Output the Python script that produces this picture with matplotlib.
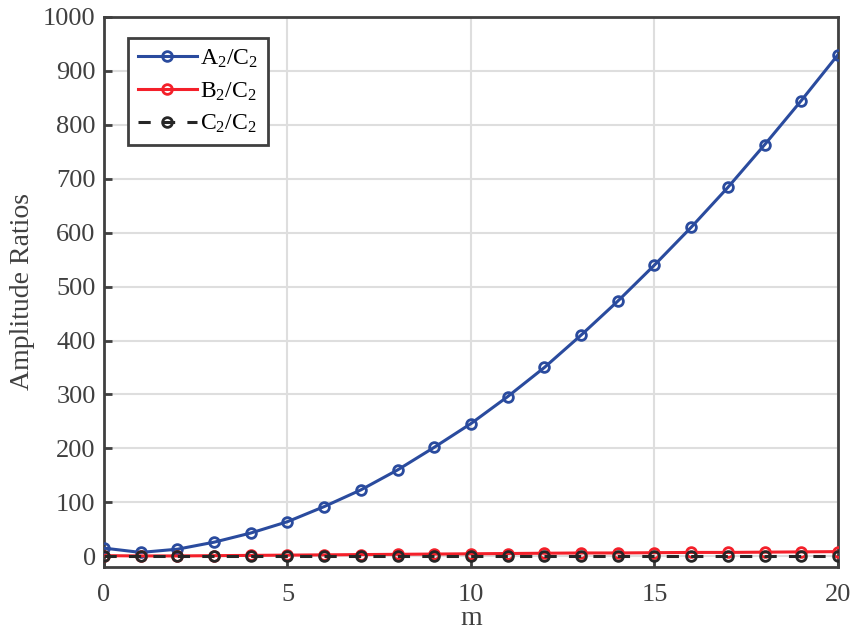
import numpy as np
import matplotlib
matplotlib.use('Agg')
import matplotlib.pyplot as plt

plt.rcParams['font.family'] = 'Liberation Serif'
plt.rcParams['mathtext.fontset'] = 'custom'
plt.rcParams['mathtext.rm'] = 'Liberation Serif'
plt.rcParams['mathtext.it'] = 'Liberation Serif:italic'
plt.rcParams['mathtext.default'] = 'regular'

# data
m = np.arange(0, 21)
a_ratio = [15, 7, 13, 26, 43, 64, 92, 123, 160, 202, 246, 296, 350, 410, 473,
           540, 610, 684, 763, 845, 930]
b_ratio = [1, 0.5, 0.5, 1, 1.5, 2, 2.5, 3, 3.5, 4, 4.5, 5, 5.5, 6, 6, 6.5, 7,
           7, 7.5, 8, 8.5]
c_ratio = [1] * 21

blue = '#2a4b9e'
red = '#f4202a'
dark = '#262626'
spine_col = '#404040'

fig = plt.figure(figsize=(8.51, 6.39), dpi=100)
ax = fig.add_axes([0.1222, 0.1127, 0.8625, 0.8607])

ax.plot(m, a_ratio, '-o', color=blue, lw=2.2, ms=7, mfc='none', mew=2,
        label='A$_2$/C$_2$', zorder=3)
ax.plot(m, b_ratio, '-o', color=red, lw=2.2, ms=7, mfc='none', mew=2,
        label='B$_2$/C$_2$', zorder=4)
ax.plot(m, c_ratio, '--o', color=dark, lw=2.2, ms=7, mfc='none', mew=2,
        dashes=(4, 4), label='C$_2$/C$_2$', zorder=5)

ax.set_xlim(0, 20)
ax.set_ylim(-20, 1000)
ax.set_xticks(np.arange(0, 21, 5))
ax.set_yticks(np.arange(0, 1001, 100))
ax.grid(True, color='#dedede', lw=1.5)
ax.set_axisbelow(True)

for s in ax.spines.values():
    s.set_color(spine_col)
    s.set_linewidth(2)
ax.tick_params(direction='in', length=6, width=2, color=spine_col,
               labelsize=19, labelcolor='#404040', top=False, right=False)
ax.tick_params(axis='x', pad=12)
ax.tick_params(axis='y', pad=6)

ax.set_xlabel('m', fontsize=20, color='#404040', labelpad=0)
ax.set_ylabel('Amplitude Ratios', fontsize=20, color='#404040', labelpad=6)

leg = ax.legend(loc='upper left', bbox_to_anchor=(0.033, 0.962), fontsize=17,
                frameon=True, fancybox=False, numpoints=1, handlelength=2.5,
                handletextpad=0.15, borderpad=0.4, labelspacing=0.45,
                borderaxespad=0)
leg.get_frame().set_edgecolor(spine_col)
leg.get_frame().set_linewidth(2)
leg.get_frame().set_alpha(1)

fig.savefig('out.png', dpi=100)
